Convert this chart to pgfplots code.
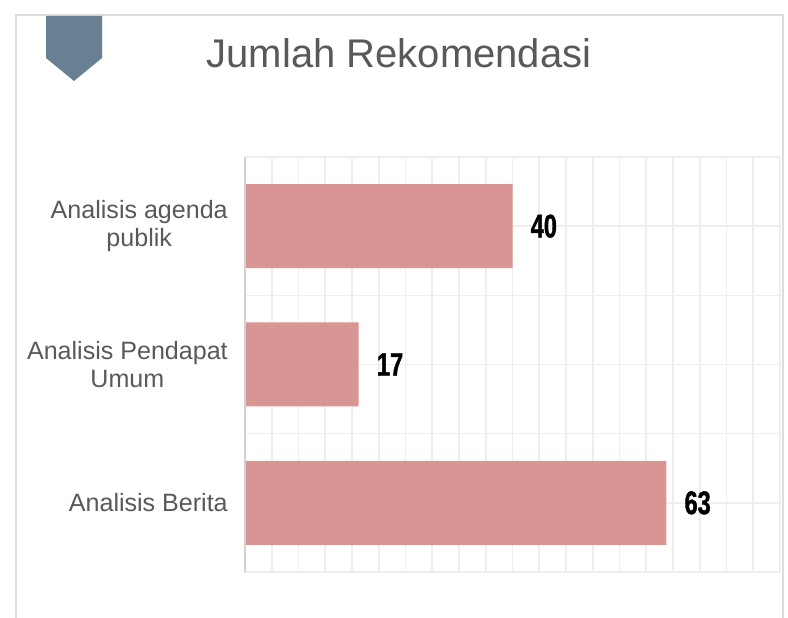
\documentclass[border=0pt]{standalone}
\usepackage{pgfplots}
\pgfplotsset{compat=1.18}
\usepackage{fontspec}
\setmainfont{Liberation Sans}
\newfontfamily\numfont[FakeStretch=0.72,FakeBold=1.2]{Liberation Sans Bold}
\definecolor{barpink}{RGB}{217,149,148}
\definecolor{gridgray}{RGB}{238,238,238}
\definecolor{framegray}{RGB}{220,220,220}
\definecolor{axisgray}{RGB}{210,210,210}
\definecolor{ribbon}{RGB}{104,128,145}
\definecolor{txtgray}{RGB}{89,89,89}

\begin{document}
\begin{tikzpicture}[x=0.75pt,y=0.75pt]
\useasboundingbox (0,0) rectangle (788,617);
\fill[white] (0,0) rectangle (788,617);
% card frame and ribbon
\draw[framegray, line width=1.5pt] (16,-5) -- (16,602) -- (783,602) -- (783,-5);
\fill[ribbon] (46,601) -- (102,601) -- (102,559) -- (74,536) -- (46,559) -- cycle;
\node[anchor=base, text=txtgray, font=\fontsize{30}{36}\selectfont] at (399,549) {Jumlah Rekomendasi};

\begin{axis}[
    at={(183.75pt,33.75pt)}, anchor=south west,
    scale only axis,
    width=401.25pt, height=311.25pt,
    xbar, bar width=63pt,
    xmin=0, xmax=80, ymin=-0.5, ymax=2.5,
    xtick={0,4,...,80}, xticklabels={},
    ytick={0,1,2},
    yticklabels={Analisis Berita,{Analisis Pendapat\\Umum},{Analisis agenda\\publik}},
    minor ytick={-0.5,0.5,1.5,2.5},
    xmajorgrids, ymajorgrids, yminorgrids,
    grid style={gridgray, line width=1.2pt},
    minor grid style={gridgray, line width=1.2pt},
    axis line style={draw=none},
    major tick length=0pt, minor tick length=0pt,
    yticklabel style={align=center, text=txtgray, inner sep=0pt, xshift=-12.75pt,
        font=\fontsize{18.8}{21.5}\selectfont},
    nodes near coords={\pgfmathprintnumber[assume math mode=true]{\pgfplotspointmeta}},
    nodes near coords style={font=\numfont\fontsize{24.5}{24.5}\selectfont,
        text=black, inner sep=0pt, anchor=west, xshift=13.5pt},
    clip=false,
]
\addplot[fill=barpink, draw=none] coordinates {(63,0) (17,1) (40,2)};
\draw[axisgray, line width=1.5pt] (axis cs:0,-0.5) -- (axis cs:0,2.5);
\end{axis}
\end{tikzpicture}
\end{document}
